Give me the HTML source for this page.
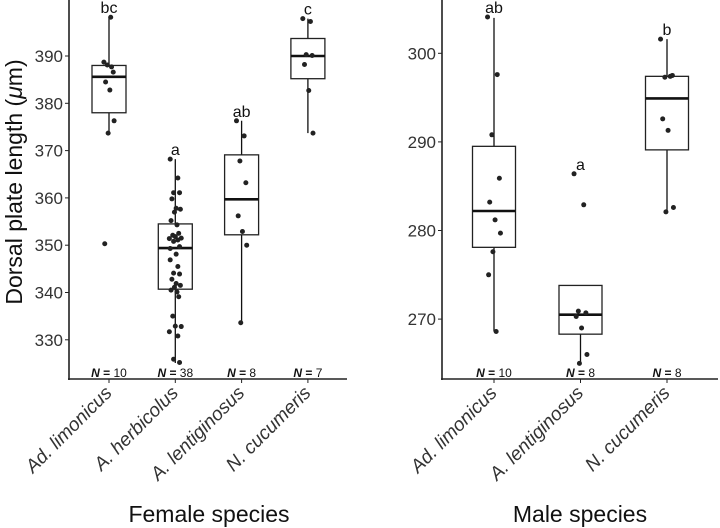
<!DOCTYPE html>
<html><head><meta charset="utf-8"><style>
body{margin:0;background:#fff;}
svg{display:block;font-family:"Liberation Sans",sans-serif;}
</style></head><body>
<svg id="chart" width="720" height="528" viewBox="0 0 720 528" xmlns="http://www.w3.org/2000/svg"></svg>
<script>
const femaleCats = ["Ad. limonicus","A. herbicolus","A. lentiginosus","N. cucumeris"];
const femaleN = [10,38,8,7];
const femaleLetters = ["bc","a","ab","c"];
const femaleStats = [ // [lowWhisker,q1,median,q3,highWhisker]
 [373.7,378.0,385.6,388.0,398.2],
 [325.1,340.7,349.4,354.5,368.2],
 [333.6,352.2,359.7,369.1,376.3],
 [373.7,385.2,390.0,393.7,397.9]];
const femalePoints = [
 [388.7,387.7,388.1,386.6,384.5,382.8,376.3,373.7,350.3,398.2],
 [368.2,364.2,361.1,361.1,359.8,357.8,357.6,357.0,355.2,354.3,352.5,352.1,351.8,351.5,351.4,351.1,350.8,349.7,349.3,348.1,346.9,345.5,344.1,343.9,342.8,341.9,341.5,341.1,340.5,340.1,339.1,335.0,332.9,332.8,331.7,330.8,325.9,325.2],
 [376.3,373.1,367.8,363.2,356.2,352.9,350.0,333.6],
 [397.9,397.3,390.3,390.1,388.2,382.7,373.7]];
const femaleTicks = [330,340,350,360,370,380,390];
const maleCats = ["Ad. limonicus","A. lentiginosus","N. cucumeris"];
const maleN = [10,8,8];
const maleLetters = ["ab","a","b"];
const maleStats = [
 [268.6,278.1,282.2,289.5,304.0],
 [265.0,268.3,270.5,273.8,273.8],
 [282.1,289.1,294.9,297.4,301.6]];
const malePoints = [
 [304.1,297.6,290.8,285.9,283.2,281.2,279.7,277.6,275.0,268.6],
 [286.4,282.9,270.9,270.7,270.3,269.0,266.0,265.0],
 [301.6,297.4,297.3,297.5,292.6,291.3,282.6,282.1]];
const maleTicks = [270,280,290,300];

const NS="http://www.w3.org/2000/svg";
const svg=document.getElementById('chart');
function mk(tag,attrs,parent,text){const e=document.createElementNS(NS,tag);for(const k in attrs)e.setAttribute(k,attrs[k]);if(text!==undefined)e.textContent=text;(parent||svg).appendChild(e);return e;}
const jit=[-6,3,-2,5,-4,1,6,-1,-5,2,4,-3,0,7,-7,3,-2,5,-6,1];

function panel(cfg){
 const g=mk('g',{});
 
 
 const y=v=>cfg.y0+(cfg.v0-v)*cfg.pxPer;
 const x=i=>cfg.x0+i*cfg.step;
 const ax=mk('line',{x1:cfg.axX,y1:0,x2:cfg.axX,y2:cfg.axY+1,stroke:'#222','stroke-width':1.6},g);
 
 const bx=mk('line',{x1:cfg.axX-1,y1:cfg.axY,x2:cfg.axR,y2:cfg.axY,stroke:'#222','stroke-width':1.6},g);
 
 cfg.ticks.forEach(t=>{
  const tk=mk('line',{x1:cfg.axX-4,x2:cfg.axX,y1:y(t),y2:y(t),stroke:'#222','stroke-width':1},g);
  
  const tl=mk('text',{x:cfg.axX-6,y:y(t)+6,'text-anchor':'end','font-size':17,fill:'#333'},g,String(t));
  
 });
 cfg.cats.forEach((c,i)=>{
  const cx=x(i),s=cfg.stats[i],hw=cfg.bw/2;
  const wl=mk('line',{x1:cx,x2:cx,y1:y(s[0]),y2:y(s[4]),stroke:'#111','stroke-width':1.3},g);
  
  const r=mk('rect',{x:cx-hw,y:y(s[3]),width:cfg.bw,height:y(s[1])-y(s[3]),fill:'#fff',stroke:'#222','stroke-width':1.3},g);
  
  const md=mk('line',{x1:cx-hw,x2:cx+hw,y1:y(s[2]),y2:y(s[2]),stroke:'#111','stroke-width':2.6},g);
  
  cfg.pts[i].forEach((v,j)=>{
   const p=mk('circle',{cx:cx+jit[j%jit.length]*(cfg.bw/40),cy:y(v),r:2.5,fill:'#222'},g);
   
  });
  const top=Math.max(...cfg.pts[i],s[4]);
  const lt=mk('text',{x:cx,y:y(top)-4,'text-anchor':'middle','font-size':16,fill:'#111'},g,cfg.letters[i]);
  
  const nt=mk('text',{x:cx,y:cfg.axY-2,'text-anchor':'middle','font-size':12,fill:'#111'},g);
  
  mk('tspan',{'font-style':'italic','font-weight':'bold'},nt,'N');
  mk('tspan',{'font-weight':'bold'},nt,' = ');
  mk('tspan',{},nt,String(cfg.n[i]));
  const xt=mk('line',{x1:cx,x2:cx,y1:cfg.axY,y2:cfg.axY+4,stroke:'#222','stroke-width':1},g);
  
  const xl=mk('text',{x:cx+4,y:cfg.axY+15,'text-anchor':'end','font-size':19,'font-style':'italic',fill:'#333',transform:`rotate(-45 ${cx+4} ${cfg.axY+15})`},g,c);
  
 });
 const tt=mk('text',{x:cfg.titleX,y:522,'text-anchor':'middle','font-size':23,fill:'#111'},g,cfg.title);
 
}
panel({name:'female-panel',cats:femaleCats,n:femaleN,letters:femaleLetters,stats:femaleStats,pts:femalePoints,ticks:femaleTicks,
 v0:390,y0:56,pxPer:4.73,x0:109,step:66.3,bw:34,axX:69,axY:379,axR:347,title:'Female species',titleX:209});
panel({name:'male-panel',cats:maleCats,n:maleN,letters:maleLetters,stats:maleStats,pts:malePoints,ticks:maleTicks,
 v0:300,y0:53.3,pxPer:8.86,x0:494,step:86.5,bw:43,axX:442,axY:379,axR:718,title:'Male species',titleX:580});
const yt=mk('text',{x:0,y:0,'text-anchor':'middle','font-size':23,fill:'#111',transform:'translate(22 182) rotate(-90)'});


mk('tspan',{},yt,'Dorsal plate length (');
mk('tspan',{'font-style':'italic'},yt,'μ');
mk('tspan',{},yt,'m)');
</script>
</body></html>
